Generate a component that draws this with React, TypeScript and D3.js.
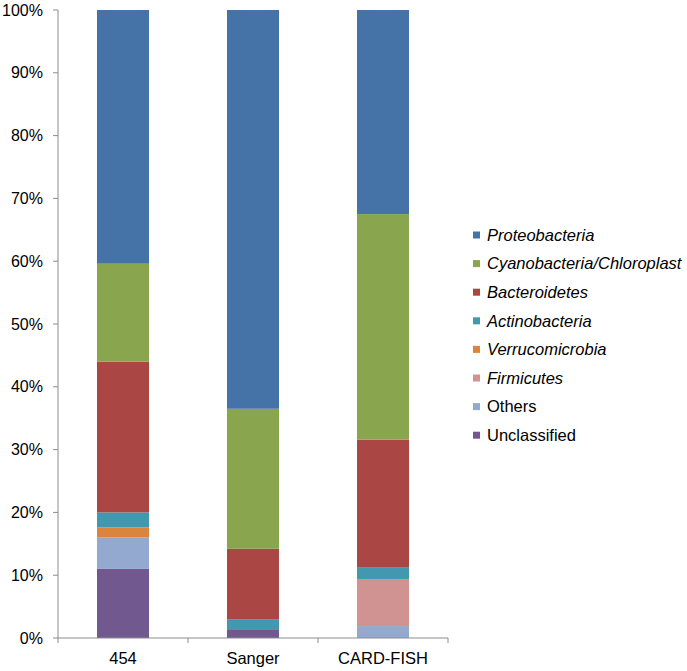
import React from "react";
import * as d3 from "d3";

const categories = ["454", "Sanger", "CARD-FISH"];
const seriesNames = [
  "Unclassified",
  "Others",
  "Firmicutes",
  "Verrucomicrobia",
  "Actinobacteria",
  "Bacteroidetes",
  "Cyanobacteria/Chloroplast",
  "Proteobacteria",
];
const italicSeries = [false, false, true, true, true, true, true, true];
const seriesColors = ["#71588F", "#93A9CF", "#D09392", "#DB843D", "#4198AF", "#AA4643", "#89A54E", "#4572A7"];
// values per series, in category order [454, Sanger, CARD-FISH]
const unclassified = [11, 1.4, 0];
const others = [5, 0, 1.9];
const firmicutes = [0, 0, 7.5];
const verrucomicrobia = [1.6, 0, 0];
const actinobacteria = [2.4, 1.6, 1.8];
const bacteroidetes = [24, 11.2, 20.4];
const cyanobacteria = [15.6, 22.3, 35.9];
const proteobacteria = [40.4, 63.5, 32.5];
const yTicks = [0, 10, 20, 30, 40, 50, 60, 70, 80, 90, 100];

const seriesValues = [unclassified, others, firmicutes, verrucomicrobia, actinobacteria, bacteroidetes, cyanobacteria, proteobacteria];

export default function App() {
  const W = 687, H = 671;
  const left = 58, right = 448, top = 10, bottom = 638;
  const x = d3.scaleBand<string>().domain(categories).range([left, right]).paddingInner(0).paddingOuter(0);
  const y = d3.scaleLinear().domain([0, 100]).range([bottom, top]);
  const barW = x.bandwidth() * 0.4;

  const rows = categories.map((c, i) => {
    const r: any = { cat: c };
    seriesNames.forEach((s, j) => (r[s] = seriesValues[j][i]));
    return r;
  });
  const stacked = d3.stack().keys(seriesNames)(rows);
  const axisColor = "#8c8c8c";
  const font = "'Liberation Sans', Arial, sans-serif";

  const legendOrder = [...seriesNames.keys()].reverse();

  return (
    <svg width={W} height={H} style={{ position: "absolute", left: 0, top: 0 }} fontFamily={font}>
      <rect width={W} height={H} fill="#fff" />
      {stacked.map((layer, j) => (
        <g key={layer.key} fill={seriesColors[j]}>
          {layer.map((d, i) =>
            d[1] - d[0] > 0 ? (
              <rect
                key={i}
                x={(x(categories[i]) as number) + (x.bandwidth() - barW) / 2}
                width={barW}
                y={y(d[1])}
                height={y(d[0]) - y(d[1])}
              />
            ) : null
          )}
        </g>
      ))}
      {/* y axis */}
      <line x1={left} x2={left} y1={top} y2={bottom} stroke={axisColor} strokeWidth={1} />
      {yTicks.map((t) => (
        <g key={t}>
          <line x1={left - 5} x2={left} y1={y(t)} y2={y(t)} stroke={axisColor} />
          <text x={43} y={y(t)} dy="0.35em" textAnchor="end" fontSize={16} fill="#000">
            {t}%
          </text>
        </g>
      ))}
      {/* x axis */}
      <line x1={left} x2={right} y1={bottom} y2={bottom} stroke={axisColor} />
      {[left, ...categories.map((c) => (x(c) as number) + x.bandwidth())].map((px, i) => (
        <line key={i} x1={px} x2={px} y1={bottom} y2={bottom + 5} stroke={axisColor} />
      ))}
      {categories.map((c) => (
        <text key={c} x={(x(c) as number) + x.bandwidth() / 2} y={658} dy="0.35em" textAnchor="middle" fontSize={16.5} fill="#000">
          {c}
        </text>
      ))}
      {/* legend */}
      {legendOrder.map((j, k) => {
        const ly = 235 + k * 28.6;
        return (
          <g key={seriesNames[j]}>
            <rect x={473} y={ly - 3.5} width={7} height={7} fill={seriesColors[j]} />
            <text x={487} y={ly} dy="0.35em" fontSize={16.5} fontStyle={italicSeries[j] ? "italic" : "normal"} fill="#000">
              {seriesNames[j]}
            </text>
          </g>
        );
      })}
    </svg>
  );
}
